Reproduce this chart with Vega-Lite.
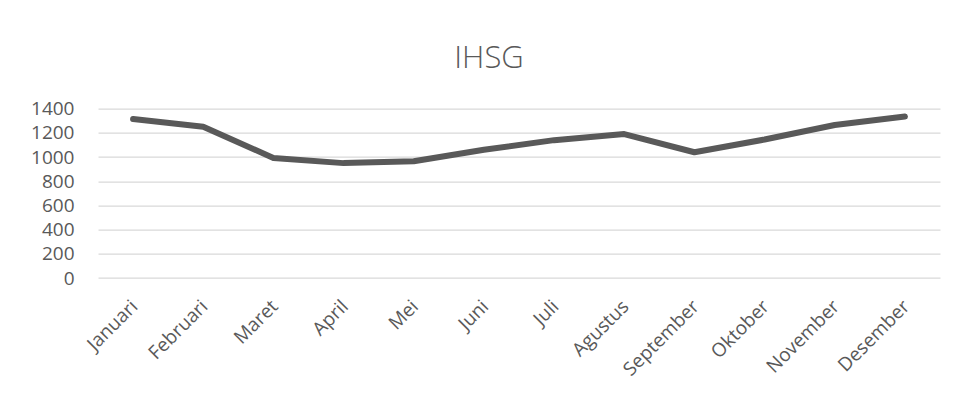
{
  "$schema": "https://vega.github.io/schema/vega-lite/v6.json",
  "autosize": {"type": "none"},
  "width": 842,
  "height": 169.3,
  "padding": {"left": 98, "top": 108.7, "right": 18, "bottom": 125},
  "background": "white",
  "title": {
    "text": "IHSG",
    "font": "Open Sans",
    "fontSize": 31,
    "fontWeight": 300,
    "color": "#595959",
    "anchor": "middle",
    "baseline": "alphabetic",
    "offset": 42,
    "dx": -30,
    "dy": 41
  },
  "data": {
    "values": [
      {"bulan": "Januari", "nilai": 1315},
      {"bulan": "Februari", "nilai": 1250},
      {"bulan": "Maret", "nilai": 993},
      {"bulan": "April", "nilai": 950},
      {"bulan": "Mei", "nilai": 965},
      {"bulan": "Juni", "nilai": 1060},
      {"bulan": "Juli", "nilai": 1140},
      {"bulan": "Agustus", "nilai": 1190},
      {"bulan": "September", "nilai": 1040},
      {"bulan": "Oktober", "nilai": 1145},
      {"bulan": "November", "nilai": 1265},
      {"bulan": "Desember", "nilai": 1335}
    ]
  },
  "mark": {"type": "line", "color": "#595959", "strokeWidth": 6, "strokeCap": "round", "strokeJoin": "round"},
  "encoding": {
    "x": {
      "field": "bulan",
      "type": "ordinal",
      "sort": null,
      "scale": {"paddingInner": 0, "paddingOuter": 0.5},
      "axis": {
        "title": null,
        "labelAngle": -45,
        "labelAlign": "right",
        "labelBaseline": "middle",
        "labelPadding": 25,
        "labelOffset": 1,
        "labelFont": "Open Sans",
        "labelFontSize": 19,
        "labelColor": "#595959",
        "ticks": false,
        "domain": false,
        "grid": false
      }
    },
    "y": {
      "field": "nilai",
      "type": "quantitative",
      "scale": {"domain": [0, 1400], "nice": false},
      "axis": {
        "title": null,
        "format": "d",
        "values": [0, 200, 400, 600, 800, 1000, 1200, 1400],
        "labelFont": "Open Sans",
        "labelFontSize": 19,
        "labelColor": "#595959",
        "labelPadding": 24,
        "ticks": false,
        "domain": false,
        "grid": true,
        "gridColor": "#d9d9d9",
        "gridWidth": 1.3
      }
    }
  },
  "config": {"view": {"stroke": null}}
}
